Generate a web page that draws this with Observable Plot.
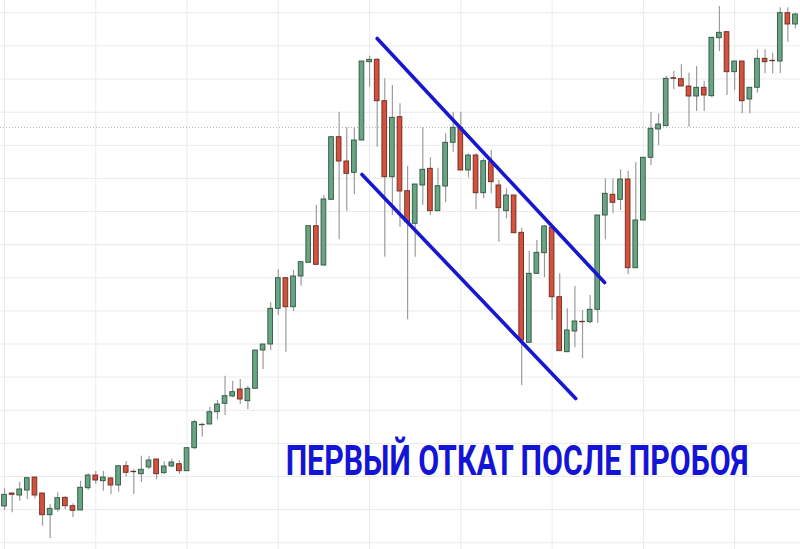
<!DOCTYPE html>
<html>
<head>
<meta charset="utf-8">
<script src="https://cdn.jsdelivr.net/npm/d3@7"></script>
<script src="https://cdn.jsdelivr.net/npm/@observablehq/plot@0.6"></script>
<style>
  html, body { margin: 0; padding: 0; background: #ffffff; }
  #chart svg { display: block; }
</style>
</head>
<body>
<div id="chart"></div>
<script>
// ---- data ----
const opens = [4.30,5.60,5.40,5.90,7.20,5.60,3.43,4.00,5.17,4.33,3.90,6.13,7.40,6.83,7.10,6.40,8.33,7.77,7.53,8.20,9.00,7.63,8.30,8.53,7.83,10.13,12.43,12.50,13.73,14.57,15.30,16.00,14.83,16.07,19.90,20.50,24.07,27.13,24.23,27.30,28.67,32.33,28.40,34.97,41.23,38.80,37.67,40.90,48.73,48.97,44.83,37.23,43.23,35.83,32.57,36.40,38.07,33.83,36.30,40.67,42.17,37.90,39.40,35.63,38.73,36.40,33.83,35.40,31.67,20.67,27.57,29.63,32.17,25.23,19.73,21.80,22.77,22.73,23.97,33.40,35.47,34.97,37.00,28.13,32.90,39.17,42.00,42.33,47.13,47.03,46.30,45.30,46.17,45.33,51.13,51.73,47.73,48.80,45.00,46.17,49.07,48.87,48.80,53.63,52.50];
const highs = [6.07,5.60,6.73,7.23,7.20,5.60,4.50,5.67,5.27,4.57,6.83,7.57,7.80,7.80,7.23,8.33,8.80,7.97,9.33,9.30,9.00,8.77,9.03,8.87,10.13,12.90,12.63,14.23,14.90,17.33,16.80,17.00,16.33,19.90,20.50,24.67,27.97,27.13,27.90,28.73,32.33,34.40,35.40,41.23,43.73,42.17,42.17,48.80,49.33,49.07,47.07,46.40,44.57,38.30,36.50,42.17,39.17,38.13,41.57,43.73,43.73,39.57,39.57,39.13,39.90,36.90,36.07,35.40,32.13,29.83,30.90,32.40,32.17,27.57,24.07,26.30,23.90,25.40,33.40,37.07,37.07,37.97,37.83,38.67,39.17,43.73,43.57,47.33,47.83,48.47,47.63,48.30,46.83,51.17,54.30,51.73,48.80,48.80,46.17,49.97,49.97,49.63,54.17,54.17,53.63];
const lows = [3.90,3.67,4.83,5.00,5.07,2.33,1.07,3.73,4.00,3.20,3.90,5.90,6.53,5.83,5.50,5.73,7.23,5.50,6.70,7.97,6.97,7.53,8.17,7.53,7.83,9.97,11.23,12.50,12.97,13.40,15.17,14.50,14.00,16.07,18.00,19.90,23.40,19.73,23.80,26.33,28.67,28.40,28.30,34.97,30.97,33.83,35.50,40.90,46.23,40.23,29.23,33.40,32.23,22.97,29.23,34.40,33.40,33.83,34.67,39.73,37.90,37.17,33.97,35.07,35.57,30.73,33.07,31.57,16.40,20.67,27.50,27.17,22.90,19.83,19.73,20.17,19.07,22.57,22.63,30.97,33.57,33.90,27.50,28.13,32.90,38.40,40.40,42.33,45.97,46.30,42.23,43.80,43.80,45.17,49.80,45.40,45.90,43.57,43.57,45.63,47.57,47.57,47.57,50.73,52.07];
const closes = [5.47,5.47,6.00,7.13,5.40,3.43,4.07,5.13,4.33,3.87,6.17,7.40,6.90,7.20,6.40,8.33,7.67,7.73,7.97,8.90,7.53,8.30,8.70,7.83,10.13,12.73,12.47,13.73,14.50,15.33,15.73,15.00,16.07,19.90,20.50,24.07,27.13,24.23,27.30,28.73,32.33,28.47,35.00,41.23,38.80,37.57,40.90,48.80,48.97,44.83,37.23,43.17,35.80,32.73,36.50,37.97,33.83,36.33,40.67,42.17,37.90,39.40,35.63,38.83,36.73,34.13,35.40,31.63,20.90,27.57,29.67,32.30,25.23,19.83,21.90,22.80,22.73,23.97,33.40,35.57,34.67,37.00,28.13,32.90,39.17,42.07,42.50,47.07,47.07,46.30,45.30,46.17,45.40,51.17,51.67,47.73,48.80,44.83,46.17,49.07,48.73,48.83,53.63,52.50,53.50];

// trend channel drawn on the chart (candle index, price)
const channelUpper = [{i: 49.0, p: 51.1}, {i: 78.9, p: 26.7}];
const channelLower = [{i: 47.0, p: 37.5}, {i: 75.1, p: 15.1}];

// background grid and last-price line
const gridPrices = [53.67,50.36,47.05,43.73,40.42,37.11,33.80,30.49,27.17,23.86,20.55,17.24,13.92,10.61,7.30,3.99,0.67];
const gridCandles = [0,12,24,36,48,60,72,84,96];
const priceLine = [42.2];

const label = "ПЕРВЫЙ ОТКАТ ПОСЛЕ ПРОБОЯ";
const labelAt = [{i: 67.4, p: 8.8, text: label}];

// ---- build ----
const candles = opens.map((o, i) => ({i, open: o, high: highs[i], low: lows[i], close: closes[i]}));
const up = d => d.close >= d.open;

const blue = "#1717d0";
const chart = Plot.plot({
  width: 800,
  height: 549,
  margin: 0,
  style: {background: "#ffffff"},
  x: {type: "linear", domain: [-0.526, 104.66], axis: null},
  y: {type: "linear", domain: [0, 54.9], axis: null},
  marks: [
    Plot.ruleY(gridPrices, {stroke: "#ebebeb", strokeWidth: 1}),
    Plot.ruleX(gridCandles, {stroke: "#ebebeb", strokeWidth: 1}),
    Plot.ruleY(priceLine, {stroke: "#b8b8b8", strokeWidth: 1, strokeDasharray: "1,2"}),
    Plot.ruleX(candles, {x: "i", y1: "low", y2: "high", stroke: "#9c9c9c", strokeWidth: 1.2}),
    Plot.rect(candles, {
      x1: d => d.i - 0.31, x2: d => d.i + 0.31,
      y1: "open", y2: "close",
      fill: d => up(d) ? "#68a584" : "#d4523d",
      stroke: d => up(d) ? "#31543f" : "#6a2a20",
      strokeWidth: 0.9
    }),
    Plot.line(channelUpper, {x: "i", y: "p", stroke: blue, strokeWidth: 3.6}),
    Plot.line(channelLower, {x: "i", y: "p", stroke: blue, strokeWidth: 3.6}),
    Plot.text(labelAt, {
      x: "i", y: "p", text: "text",
      fill: "#1414d6",
      fontSize: 42, fontWeight: "bold",
      fontFamily: "Roboto, 'Liberation Sans', sans-serif",
      textAnchor: "middle", lineAnchor: "middle"
    })
  ]
});

document.getElementById("chart").appendChild(chart);

// compress the annotation horizontally (narrow lettering in the original),
// keeping it centred on its anchor position from the x scale
const targetWidth = 463;
const cx = chart.scale("x").apply(labelAt[0].i);
d3.select(chart).selectAll("text")
  .filter(function() { return this.textContent === label; })
  .each(function() {
    const w = this.getComputedTextLength();
    const sx = targetWidth / w;
    const parent = this.parentNode;
    const g = document.createElementNS("http://www.w3.org/2000/svg", "g");
    g.setAttribute("transform", `translate(${cx},0) scale(${sx},1) translate(${-cx},0)`);
    parent.insertBefore(g, this);
    g.appendChild(this);
  });
</script>
</body>
</html>
